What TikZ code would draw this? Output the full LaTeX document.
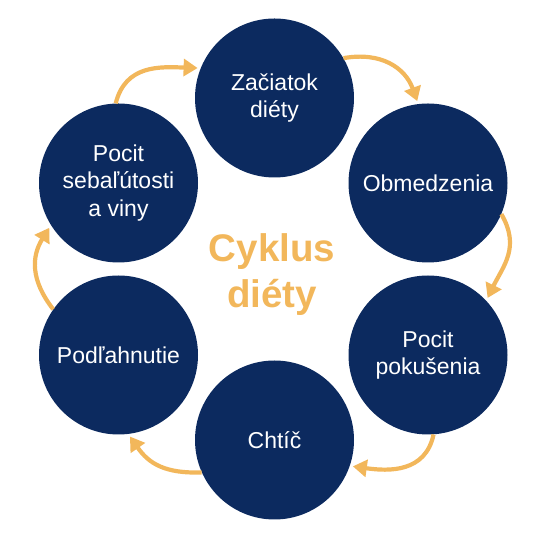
\documentclass[tikz,border=0pt]{standalone}
\usepackage{fontspec}
\setmainfont{Liberation Sans}
\usetikzlibrary{arrows.meta}
\definecolor{navy}{HTML}{0C2A5F}
\definecolor{gold}{HTML}{F2B75B}
\begin{document}
\begin{tikzpicture}[x=1pt,y=1pt,
  stage/.style={circle,fill=navy,minimum size=159pt,inner sep=0pt,text=white,align=center,font=\fontsize{23}{27.5}\selectfont},
  cyc/.style={draw=gold,line width=4.2pt,-{Triangle[length=14pt,width=17pt]},shorten >=3pt,looseness=1.12},
  title/.style={text=gold,align=center,font=\bfseries\fontsize{38.5}{46}\selectfont}]
\useasboundingbox (0,0) rectangle (541,535);
\node[stage] (c1) at (274.5,437) {Začiatok\\diéty};
\node[stage] (c2) at (428,352) {Obmedzenia};
\node[stage] (c3) at (428,180) {Pocit\\pokušenia};
\node[stage] (c4) at (274.5,95) {Chtíč};
\node[stage] (c5) at (118.5,180) {Podľahnutie};
\node[stage] (c6) at (118.5,352) {Pocit\\sebaľútosti\\a viny};
\node[title] (t) at (272,260) {Cyklus\\diéty};
\draw[cyc] (c6.92) to[out=76,in=178] (c1.158);
\draw[cyc] (c1.30) to[out=10,in=110] (c2.97);
\draw[cyc] (c2.-23) to[out=-60,in=64] (c3.43);
\draw[cyc] (c3.-86) to[out=-102,in=-8] (c4.-19);
\draw[cyc] (c4.204) to[out=182,in=-55] (c5.-83);
\draw[cyc] (c5.145) to[out=128,in=238] (c6.212);
\end{tikzpicture}
\end{document}
